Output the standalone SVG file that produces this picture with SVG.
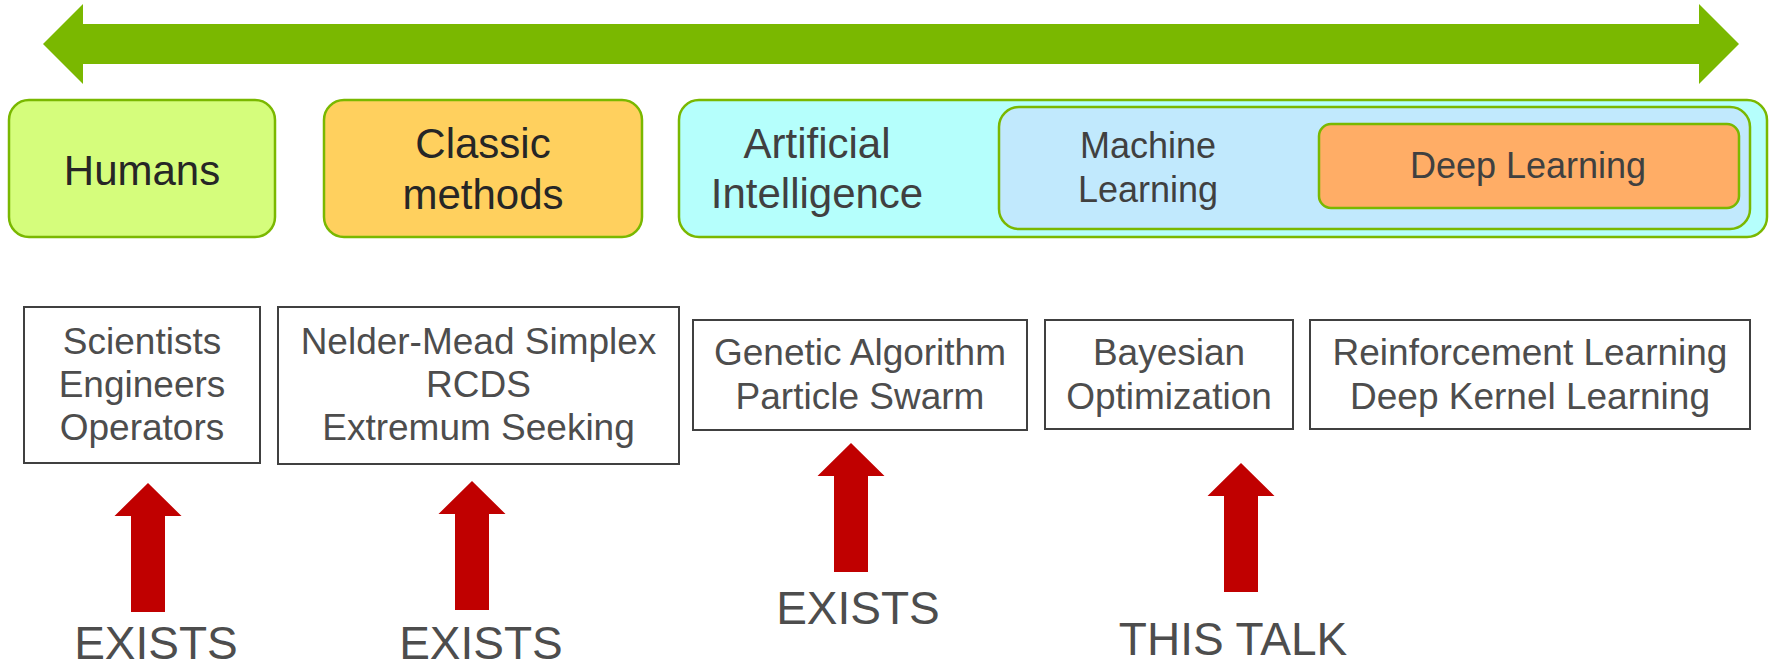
<svg xmlns="http://www.w3.org/2000/svg" xmlns:xlink="http://www.w3.org/1999/xlink" width="1776" height="665" viewBox="0 0 1776 665">
  <style>
    .cat { stroke: #7ab800; stroke-width: 2.5; }
    .box { fill: #ffffff; stroke: #404040; stroke-width: 2; }
    .t { font-family: "Liberation Sans", Arial, sans-serif; text-anchor: middle; }
    .top { fill: #262626; font-size: 42px; }
    .ai { fill: #404040; }
    .item { fill: #4d4d4d; font-size: 37px; }
    .lbl { fill: #4d4d4d; font-size: 46px; }
    .red { fill: #c00000; }
  </style>
  <defs>
    <path id="up" d="M0,0 L33.5,33 L17,33 L17,129 L-17,129 L-17,33 L-33.5,33 Z"/>
  </defs>

  <rect width="1776" height="665" fill="#ffffff"/>

  <g id="scale-arrow">
    <polygon points="43,44 83,4 83,24 1699,24 1699,4 1739,44 1699,84 1699,64 83,64 83,84" fill="#7ab800"/>
  </g>

  <g id="humans">
    <rect class="cat" x="9" y="100" width="266" height="137" rx="20" fill="#d5fd7c"/>
    <text class="t top" x="142" y="185">Humans</text>
  </g>
  <g id="classic">
    <rect class="cat" x="324" y="100" width="318" height="137" rx="20" fill="#ffd05e"/>
    <text class="t top" x="483" y="158">Classic</text>
    <text class="t top" x="483" y="209">methods</text>
  </g>
  <g id="ai">
    <rect class="cat" x="679" y="100" width="1088" height="137" rx="20" fill="#b5fffc"/>
    <text class="t top ai" x="817" y="158" font-size="41">Artificial</text>
    <text class="t top ai" x="817" y="208" font-size="41">Intelligence</text>
  </g>
  <g id="ml">
    <rect class="cat" x="999" y="107" width="751" height="122" rx="20" fill="#c1e9fd"/>
    <text class="t ai" x="1148" y="158" font-size="36">Machine</text>
    <text class="t ai" x="1148" y="202" font-size="36">Learning</text>
  </g>
  <g id="dl">
    <rect class="cat" x="1319" y="124" width="420" height="84" rx="12" fill="#ffad66"/>
    <text class="t ai" x="1528" y="178" font-size="36">Deep Learning</text>
  </g>

  <g id="people">
    <rect class="box" x="24" y="307" width="236" height="156"/>
    <text class="t item" x="142" y="354">Scientists</text>
    <text class="t item" x="142" y="397">Engineers</text>
    <text class="t item" x="142" y="440">Operators</text>
  </g>
  <g id="classic-methods">
    <rect class="box" x="278" y="307" width="401" height="157"/>
    <text class="t item" x="478.5" y="354">Nelder-Mead Simplex</text>
    <text class="t item" x="478.5" y="397">RCDS</text>
    <text class="t item" x="478.5" y="440">Extremum Seeking</text>
  </g>
  <g id="evolutionary">
    <rect class="box" x="693" y="320" width="334" height="110"/>
    <text class="t item" x="860" y="365">Genetic Algorithm</text>
    <text class="t item" x="860" y="409">Particle Swarm</text>
  </g>
  <g id="bayesian">
    <rect class="box" x="1045" y="320" width="248" height="109"/>
    <text class="t item" x="1169" y="365">Bayesian</text>
    <text class="t item" x="1169" y="409">Optimization</text>
  </g>
  <g id="rl">
    <rect class="box" x="1310" y="320" width="440" height="109"/>
    <text class="t item" x="1530" y="365">Reinforcement Learning</text>
    <text class="t item" x="1530" y="409">Deep Kernel Learning</text>
  </g>

  <g id="connectors">
    <use xlink:href="#up" href="#up" class="red" x="148" y="483"/>
    <use xlink:href="#up" href="#up" class="red" x="472" y="481"/>
    <use xlink:href="#up" href="#up" class="red" x="851" y="443"/>
    <use xlink:href="#up" href="#up" class="red" x="1241" y="463"/>
  </g>

  <g id="labels">
    <text class="t lbl" x="156" y="659">EXISTS</text>
    <text class="t lbl" x="481" y="659">EXISTS</text>
    <text class="t lbl" x="858" y="624">EXISTS</text>
    <text class="t lbl" x="1233" y="655">THIS TALK</text>
  </g>
</svg>
